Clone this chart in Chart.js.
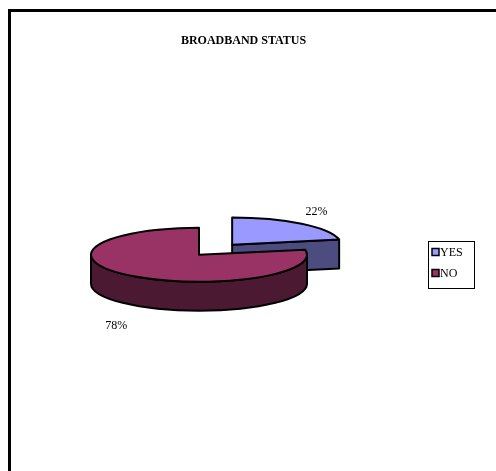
<!DOCTYPE html>
<html>
<head>
<meta charset="utf-8">
<script src="https://cdn.jsdelivr.net/npm/chart.js@4.4.1/dist/chart.umd.min.js"></script>
<style>
html,body{margin:0;padding:0;background:#fff;}
#wrap{position:relative;width:496px;height:471px;overflow:hidden;background:#fff;}
#frame{position:absolute;left:8px;top:9px;width:600px;height:600px;border:3px solid #000;box-sizing:border-box;pointer-events:none;}
#c{position:absolute;left:0;top:0;}
</style>
</head>
<body>
<div id="wrap"><canvas id="c" width="496" height="471"></canvas><div id="frame"></div></div>
<script>
// ---- data ----
const categories = ['YES', 'NO'];
const percentValues = [22, 78];
const chartTitle = 'BROADBAND STATUS';

// ---- styles ----
const topColors = ['#9999FF', '#993366'];
const sideColors = ['#4C4C80', '#4C1933'];
const TILT = 0.25;     // vertical flattening of the pie
const DEPTH = 29;      // thickness of the 3D pie in px
const SERIF = '"Liberation Serif", "Times New Roman", serif';

function geom(el) {
  const p = el.getProps(['x', 'y', 'startAngle', 'endAngle', 'outerRadius', 'circumference'], true);
  const off = (el.options.offset || 0) / 4;
  const h = (p.startAngle + p.endAngle) / 2;
  const fix = 1 - Math.sin(Math.min(Math.PI, p.circumference || 0));
  const r = p.outerRadius + off * fix;
  return {
    cx: p.x + Math.cos(h) * off,
    cy: p.y + TILT * Math.sin(h) * off,
    r: r, ry: r * TILT, s: p.startAngle, e: p.endAngle, h: h
  };
}

function drawSides(ctx, g, fill) {
  ctx.save();
  ctx.fillStyle = fill;
  ctx.strokeStyle = '#000';
  ctx.lineWidth = 2;
  ctx.lineJoin = 'round';
  const faces = [];
  if (Math.cos(g.s) < -1e-6) faces.push(g.s);
  if (Math.cos(g.e) > 1e-6) faces.push(g.e);
  for (const a of faces) {
    const px = g.cx + g.r * Math.cos(a), py = g.cy + g.ry * Math.sin(a);
    ctx.beginPath();
    ctx.moveTo(g.cx, g.cy);
    ctx.lineTo(px, py);
    ctx.lineTo(px, py + DEPTH);
    ctx.lineTo(g.cx, g.cy + DEPTH);
    ctx.closePath();
    ctx.fill();
    ctx.stroke();
  }
  for (let n = -2; n <= 2; n++) {
    const a1 = Math.max(g.s, 2 * Math.PI * n);
    const a2 = Math.min(g.e, 2 * Math.PI * n + Math.PI);
    if (a2 - a1 > 1e-4) {
      ctx.beginPath();
      ctx.ellipse(g.cx, g.cy, g.r, g.ry, 0, a1, a2, false);
      ctx.ellipse(g.cx, g.cy + DEPTH, g.r, g.ry, 0, a2, a1, true);
      ctx.closePath();
      ctx.fill();
      ctx.stroke();
    }
  }
  ctx.restore();
}

const pie3d = {
  id: 'pie3d',
  afterLayout(chart, args, opts) {
    // center the title over the whole plot frame, not only the pie area
    const t = chart.titleBlock;
    if (t) { t.left = opts.titleLeft; t.right = opts.titleRight; t.width = t.right - t.left; }
  },
  beforeDatasetsDraw(chart) {
    const ctx = chart.ctx;
    const meta = chart.getDatasetMeta(0);
    const list = meta.data.map((el, i) => ({ i: i, g: geom(el) }));
    list.sort((a, b) => Math.sin(a.g.h) - Math.sin(b.g.h));
    for (const it of list) drawSides(ctx, it.g, sideColors[it.i]);
    const cx = meta.data[0].x, cy = meta.data[0].y;
    ctx.save();
    ctx.translate(cx, cy);
    ctx.scale(1, TILT);
    ctx.translate(-cx, -cy);
  },
  afterDatasetsDraw(chart, args, opts) {
    const ctx = chart.ctx;
    ctx.restore();
    const meta = chart.getDatasetMeta(0);
    const ds = chart.data.datasets[0];
    ctx.save();
    ctx.strokeStyle = '#000';
    ctx.lineWidth = 2;
    ctx.lineJoin = 'round';
    meta.data.forEach((el) => {
      const g = geom(el);
      ctx.beginPath();
      ctx.moveTo(g.cx, g.cy);
      ctx.ellipse(g.cx, g.cy, g.r, g.ry, 0, g.s, g.e, false);
      ctx.closePath();
      ctx.stroke();
    });
    // percentage labels
    ctx.fillStyle = '#000';
    ctx.font = '12px ' + SERIF;
    ctx.textAlign = 'center';
    ctx.textBaseline = 'middle';
    meta.data.forEach((el, i) => {
      const g = geom(el);
      let x = g.cx + g.r * Math.cos(g.h);
      let y = g.cy + g.ry * Math.sin(g.h);
      if (Math.sin(g.h) > 0) y += DEPTH;
      const o = opts.labelOffsets[i];
      ctx.fillText(ds.data[i] + '%', x + o[0], y + o[1]);
    });
    ctx.restore();
  },
  afterDraw(chart, args, opts) {
    const ctx = chart.ctx;
    const L = opts.legend;
    const labels = chart.data.labels;
    const ds = chart.data.datasets[0];
    ctx.save();
    ctx.strokeStyle = '#000';
    ctx.lineWidth = 1;
    ctx.strokeRect(L.x + 0.5, L.y + 0.5, L.w, L.h);
    ctx.font = '12px ' + SERIF;
    ctx.textBaseline = 'middle';
    ctx.textAlign = 'left';
    labels.forEach((lab, i) => {
      const cyI = L.y + L.firstRow + i * L.rowGap;
      ctx.fillStyle = ds.backgroundColor[i];
      ctx.fillRect(L.x + 4, cyI - 3.5, 7, 7);
      ctx.strokeStyle = '#000';
      ctx.lineWidth = 1.5;
      ctx.strokeRect(L.x + 4, cyI - 3.5, 7, 7);
      ctx.fillStyle = '#000';
      ctx.fillText(lab, L.x + 12, cyI + 1);
    });
    ctx.restore();
  }
};

new Chart(document.getElementById('c'), {
  type: 'pie',
  data: {
    labels: categories,
    datasets: [{
      data: percentValues,
      backgroundColor: topColors,
      borderWidth: 0,
      offset: [208, 0],
      radius: 108,
      clip: false
    }]
  },
  options: {
    responsive: false,
    animation: false,
    events: [],
    layout: { padding: { left: 0, right: 98, top: 0, bottom: 20 } },
    plugins: {
      legend: { display: false },
      tooltip: { enabled: false },
      title: {
        display: true,
        text: chartTitle,
        color: '#000',
        font: { family: SERIF, size: 12, weight: 'bold' },
        padding: { top: 34, bottom: 10 }
      },
      pie3d: {
        titleLeft: 0,
        titleRight: 487,
        labelOffsets: [[15, -12], [-14, 21]],
        legend: { x: 428, y: 241, w: 46, h: 47, firstRow: 11, rowGap: 21 }
      }
    }
  },
  plugins: [pie3d]
});
</script>
</body>
</html>
